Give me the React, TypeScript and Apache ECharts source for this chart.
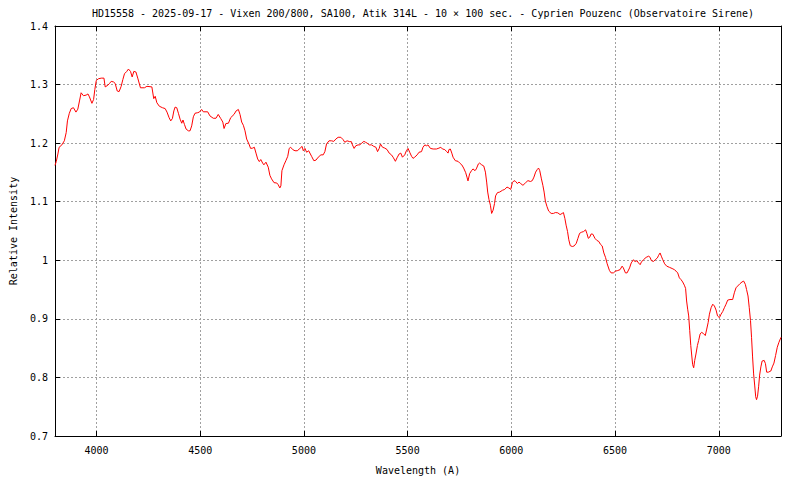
import { useEffect, useRef } from "react";
import * as echarts from "echarts";

const titleText =
  "HD15558 - 2025-09-17 - Vixen 200/800, SA100, Atik 314L - 10 × 100 sec. - Cyprien Pouzenc (Observatoire Sirene)";
const xAxisTitle = "Wavelength (A)";
const yAxisTitle = "Relative Intensity";
const xMin = 3800;
const xMax = 7300;
const yMin = 0.7;
const yMax = 1.4;
const yStep = 0.1;
const xLabelStep = 500;

// [wavelength (Å), relative intensity]
const blueSegment: [number, number][] = [
  [3800, 1.162], [3806, 1.1685], [3814, 1.1815], [3820, 1.193], [3833, 1.197], [3845, 1.204],
  [3854, 1.218], [3860, 1.238], [3869, 1.251], [3878, 1.259], [3889, 1.2605], [3901, 1.253],
  [3910, 1.258], [3918, 1.272], [3926, 1.286], [3937, 1.281], [3950, 1.282], [3959, 1.284],
  [3966, 1.279], [3978, 1.268], [3986, 1.2745], [3992, 1.2915], [3999, 1.307], [4010, 1.31],
  [4023, 1.311], [4036, 1.311], [4042, 1.296], [4055, 1.299], [4063, 1.302], [4071, 1.3055],
  [4082, 1.3045], [4090, 1.302], [4100, 1.289], [4109, 1.288], [4119, 1.297], [4127, 1.3085],
  [4135, 1.3185], [4146, 1.3225], [4154, 1.3265], [4164, 1.3225], [4172, 1.313], [4180, 1.3225],
  [4190, 1.3215], [4199, 1.311], [4212, 1.2945], [4231, 1.2945], [4243, 1.297], [4267, 1.296],
  [4276, 1.276], [4283, 1.28], [4291, 1.269], [4303, 1.263], [4318, 1.2605], [4331, 1.259],
  [4340, 1.253], [4350, 1.2435], [4358, 1.238], [4366, 1.242], [4373, 1.255], [4379, 1.2615],
  [4387, 1.2605], [4395, 1.251], [4403, 1.241], [4411, 1.234], [4417, 1.2395], [4424, 1.232],
  [4432, 1.224], [4443, 1.221], [4451, 1.221], [4459, 1.2295], [4467, 1.245], [4475, 1.251],
  [4488, 1.252], [4496, 1.253], [4507, 1.2575], [4515, 1.2535], [4536, 1.2535], [4547, 1.2465],
];

const cyanSegment: [number, number][] = [
  [4563, 1.2425], [4576, 1.2425], [4587, 1.249], [4599, 1.242], [4609, 1.236], [4615, 1.225],
  [4624, 1.2335], [4636, 1.234], [4647, 1.2435], [4663, 1.249], [4673, 1.255], [4684, 1.2575],
  [4692, 1.249], [4700, 1.236], [4708, 1.2305], [4716, 1.221], [4724, 1.207], [4735, 1.1985],
  [4743, 1.191], [4753, 1.1915], [4761, 1.193], [4769, 1.183], [4777, 1.173], [4785, 1.1685],
  [4792, 1.172], [4801, 1.166], [4807, 1.163], [4817, 1.1675], [4828, 1.159], [4836, 1.145],
  [4844, 1.139], [4856, 1.1325], [4869, 1.132], [4876, 1.129], [4884, 1.1235], [4889, 1.127],
  [4894, 1.153], [4904, 1.163], [4913, 1.17], [4922, 1.1775], [4929, 1.191], [4936, 1.193],
  [4946, 1.189], [4957, 1.187], [4968, 1.187], [4981, 1.191], [4991, 1.1945], [4997, 1.187],
  [5005, 1.191], [5013, 1.1845], [5023, 1.187], [5037, 1.1775], [5048, 1.17], [5058, 1.171],
  [5069, 1.176], [5082, 1.18], [5093, 1.18], [5101, 1.1855], [5109, 1.1985], [5121, 1.204],
  [5133, 1.204], [5144, 1.203], [5154, 1.207], [5165, 1.21], [5178, 1.21], [5189, 1.206],
  [5197, 1.2015], [5208, 1.204], [5221, 1.2025], [5229, 1.2025], [5234, 1.197], [5242, 1.191],
  [5250, 1.1955], [5261, 1.197],
];

const greenSegment: [number, number][] = [
  [5270, 1.197], [5278, 1.2], [5289, 1.203], [5297, 1.2015], [5305, 1.2], [5315, 1.197],
  [5326, 1.197], [5337, 1.1945], [5347, 1.193], [5355, 1.1855], [5363, 1.191], [5369, 1.1985],
  [5379, 1.193], [5390, 1.1915], [5401, 1.189], [5411, 1.183], [5422, 1.18], [5430, 1.176],
  [5441, 1.169], [5449, 1.175], [5459, 1.1815], [5467, 1.183], [5475, 1.176], [5486, 1.18],
  [5494, 1.187], [5502, 1.191], [5510, 1.1845], [5519, 1.1775], [5526, 1.174], [5534, 1.176],
  [5546, 1.18], [5555, 1.1845], [5567, 1.1855], [5574, 1.193], [5583, 1.197], [5591, 1.1955],
  [5598, 1.197], [5610, 1.191], [5623, 1.19], [5639, 1.19], [5651, 1.1915], [5660, 1.193],
  [5668, 1.19], [5679, 1.189], [5687, 1.186], [5695, 1.183], [5699, 1.189], [5706, 1.19],
  [5713, 1.183], [5719, 1.176], [5730, 1.17], [5743, 1.169], [5751, 1.166], [5761, 1.163],
  [5770, 1.1575], [5780, 1.1495], [5786, 1.142], [5791, 1.1355], [5799, 1.148], [5808, 1.153],
  [5815, 1.156], [5825, 1.153], [5831, 1.156], [5841, 1.1645], [5847, 1.166], [5857, 1.163],
  [5867, 1.161], [5875, 1.1505], [5881, 1.1335], [5886, 1.1165], [5892, 1.104], [5899, 1.094],
  [5905, 1.08], [5912, 1.0855], [5919, 1.097], [5924, 1.11], [5933, 1.1155],
];

const orangeSegment: [number, number][] = [
  [5944, 1.1165], [5957, 1.1195], [5968, 1.121], [5979, 1.125], [5988, 1.1235], [5997, 1.121],
  [6005, 1.1325], [6013, 1.136], [6021, 1.1345], [6029, 1.131], [6037, 1.1335], [6045, 1.131],
  [6056, 1.128], [6069, 1.1325], [6080, 1.136], [6092, 1.1345], [6101, 1.136], [6109, 1.142],
  [6117, 1.1505], [6125, 1.155], [6131, 1.1575], [6137, 1.153], [6145, 1.139], [6152, 1.128],
  [6158, 1.1165], [6164, 1.101], [6172, 1.0915], [6180, 1.084], [6192, 1.08], [6203, 1.08],
  [6212, 1.0815], [6224, 1.081], [6235, 1.078], [6245, 1.08], [6251, 1.0815], [6258, 1.0715],
  [6264, 1.06], [6271, 1.049], [6277, 1.035], [6284, 1.025], [6294, 1.0235], [6303, 1.0245],
  [6313, 1.029], [6321, 1.0375], [6329, 1.046], [6339, 1.048], [6348, 1.049], [6358, 1.052],
  [6364, 1.046], [6371, 1.0375], [6377, 1.039], [6385, 1.045], [6393, 1.0445], [6403, 1.0375],
  [6412, 1.034], [6422, 1.032], [6429, 1.0275], [6438, 1.0245], [6446, 1.0125], [6454, 1.005],
  [6462, 0.994], [6473, 0.9825], [6481, 0.9785], [6492, 0.9785], [6502, 0.9815], [6513, 0.9825],
  [6524, 0.984], [6534, 0.99], [6540, 0.987], [6550, 0.9785], [6558, 0.9785],
];

const redSegment: [number, number][] = [
  [6570, 0.987], [6578, 0.9955], [6589, 1.001], [6598, 0.997], [6605, 0.9995], [6613, 0.9955],
  [6621, 0.9925], [6627, 0.997], [6637, 1.001], [6650, 1.005], [6662, 1.007], [6669, 1.005],
  [6675, 0.9995], [6685, 0.998], [6694, 1.001], [6704, 1.004], [6710, 1.0085], [6717, 1.0125],
  [6723, 1.007], [6730, 1.001], [6739, 0.994], [6749, 0.99], [6762, 0.988], [6775, 0.986],
  [6786, 0.984], [6794, 0.9815], [6802, 0.9785], [6810, 0.97], [6818, 0.967], [6826, 0.963],
  [6834, 0.9575], [6840, 0.952], [6845, 0.9305], [6850, 0.9165], [6855, 0.905], [6860, 0.88],
  [6865, 0.8545], [6869, 0.84], [6874, 0.822], [6879, 0.8165], [6884, 0.829], [6890, 0.84],
  [6897, 0.8545], [6903, 0.863], [6910, 0.874], [6917, 0.877], [6926, 0.875], [6935, 0.8715],
  [6942, 0.8826], [6949, 0.894], [6955, 0.908], [6963, 0.919], [6971, 0.925], [6979, 0.922],
  [6987, 0.915], [6994, 0.905], [7003, 0.902], [7011, 0.908], [7019, 0.9125], [7027, 0.919],
  [7035, 0.925], [7043, 0.932], [7054, 0.933], [7067, 0.933], [7075, 0.9445], [7083, 0.953],
  [7091, 0.956], [7102, 0.96], [7112, 0.963], [7120, 0.9645], [7128, 0.959], [7134, 0.95],
  [7141, 0.939], [7147, 0.919], [7153, 0.897], [7158, 0.8685], [7163, 0.835], [7168, 0.806],
  [7173, 0.787], [7178, 0.767], [7182, 0.762], [7187, 0.768], [7192, 0.784], [7197, 0.804],
  [7203, 0.818], [7209, 0.828], [7219, 0.829], [7225, 0.8235], [7231, 0.809], [7239, 0.809],
  [7251, 0.811], [7258, 0.818], [7266, 0.8245], [7274, 0.8375], [7282, 0.8515], [7290, 0.86],
  [7300, 0.8685],
];

const FONT = '"DejaVu Sans Mono", "Liberation Mono", monospace';

export default function App() {
  const ref = useRef<HTMLDivElement>(null);

  useEffect(() => {
    if (!ref.current) return;
    const chart = echarts.init(ref.current, undefined, { renderer: "svg" });
    const spectrum = [
      ...blueSegment,
      ...cyanSegment,
      ...greenSegment,
      ...orangeSegment,
      ...redSegment,
    ];
    const axisLine = { show: true, lineStyle: { color: "#000", width: 1 } };
    const tick = { show: true, inside: true, length: 5, lineStyle: { color: "#000" } };
    const gridLine = {
      show: true,
      lineStyle: { color: "#a0a0a0", width: 1, type: [2, 2] as number[] },
    };
    const labelStyle = { fontFamily: FONT, fontSize: 10, color: "#000" };

    chart.setOption({
      animation: false,
      backgroundColor: "#fff",
      title: {
        text: titleText,
        left: 418,
        top: 3,
        textAlign: "center",
        textStyle: { fontFamily: FONT, fontSize: 10, fontWeight: "normal", color: "#000" },
      },
      grid: { left: 55, right: 19, top: 26, bottom: 40, containLabel: false },
      xAxis: [
        {
          type: "value",
          min: xMin,
          max: xMax,
          splitNumber: 7,
          position: "bottom",
          axisLine,
          axisTick: tick,
          axisLabel: {
            ...labelStyle,
            margin: 9,
            formatter: (v: number) => (v % xLabelStep === 0 ? String(v) : ""),
          },
          splitLine: gridLine,
          name: xAxisTitle,
          nameLocation: "middle",
          nameGap: 29,
          nameTextStyle: labelStyle,
        },
        {
          type: "value",
          min: xMin,
          max: xMax,
          splitNumber: 7,
          position: "top",
          axisLine,
          axisTick: tick,
          axisLabel: { show: false },
          splitLine: { show: false },
        },
      ],
      yAxis: [
        {
          type: "value",
          min: yMin,
          max: yMax,
          interval: yStep,
          position: "left",
          axisLine,
          axisTick: tick,
          axisLabel: {
            ...labelStyle,
            margin: 7,
            formatter: (v: number) => String(Number(v.toFixed(2))),
          },
          splitLine: gridLine,
          name: yAxisTitle,
          nameLocation: "middle",
          nameGap: 37,
          nameRotate: 90,
          nameTextStyle: labelStyle,
        },
        {
          type: "value",
          min: yMin,
          max: yMax,
          interval: yStep,
          position: "right",
          axisLine,
          axisTick: tick,
          axisLabel: { show: false },
          splitLine: { show: false },
        },
      ],
      series: [
        {
          type: "line",
          xAxisIndex: 0,
          yAxisIndex: 0,
          data: spectrum,
          showSymbol: false,
          symbol: "none",
          clip: true,
          lineStyle: { color: "#ff0000", width: 1 },
        },
      ],
    });

    return () => chart.dispose();
  }, []);

  return (
    <div
      ref={ref}
      style={{ position: "fixed", left: 0, top: 0, width: 800, height: 480, background: "#fff" }}
    />
  );
}
